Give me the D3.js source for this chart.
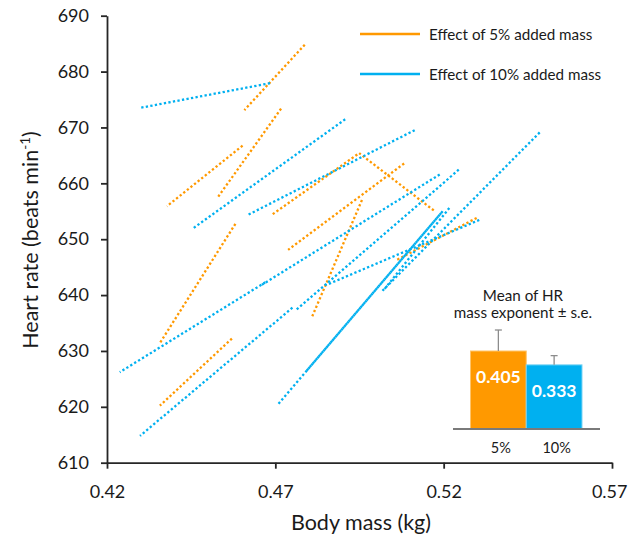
<!DOCTYPE html>
<html>
<head>
<meta charset="utf-8">
<script src="https://cdn.jsdelivr.net/npm/d3@7"></script>
<style>
  html, body { margin: 0; padding: 0; background: #fff; }
  svg { display: block; font-family: Lato, "Open Sans", sans-serif; }
</style>
</head>
<body>
<svg id="chart" width="628" height="538"></svg>
<script>
// ---- Data ----
// Each segment: [mass0, hr0, mass1, hr1]
const segments5 = [
  [0.4608, 673.1, 0.4792, 685.1],
  [0.4528, 657.4, 0.4721, 673.7],
  [0.4378, 655.9, 0.4608, 667.0],
  [0.4688, 654.3, 0.4949, 665.4],
  [0.4949, 665.4, 0.5176, 654.9],
  [0.4738, 648.1, 0.5088, 663.8],
  [0.4809, 636.1, 0.4960, 657.4],
  [0.4357, 631.4, 0.4585, 653.1],
  [0.4357, 620.2, 0.4576, 632.5],
  [0.5061, 646.3, 0.5304, 654.0]
];
const segments10 = [
  [0.4298, 673.5, 0.4691, 678.0],
  [0.4457, 652.0, 0.4913, 671.7],
  [0.4617, 654.3, 0.5120, 669.7],
  [0.4238, 626.2, 0.4676, 642.5],
  [0.4659, 641.8, 0.5194, 661.8],
  [0.4298, 614.8, 0.4756, 638.0],
  [0.4759, 637.2, 0.5250, 662.7],
  [0.4851, 641.8, 0.5312, 653.6],
  [0.4709, 620.5, 0.5197, 655.0],
  [0.4792, 626.4, 0.5197, 655.0],
  [0.5022, 640.9, 0.5221, 655.9],
  [0.5017, 640.7, 0.5490, 669.4]
];
const xTicks = [0.42, 0.47, 0.52, 0.57];
const yTicks = [610, 620, 630, 640, 650, 660, 670, 680, 690];
const legendLabels = ["Effect of 5% added mass", "Effect of 10% added mass"];
const insetCategories = ["5%", "10%"];
const insetMeans = [0.405, 0.333];
const insetSE = [0.109, 0.048];
const insetTitle = ["Mean of HR", "mass exponent \u00b1 s.e."];

const ORANGE = "#FF9900";
const BLUE = "#00B0F0";
const TEXT = "#1a1a1a";
const DASH = 2.3;

const svg = d3.select("#chart");

const x = d3.scaleLinear().domain([0.42, 0.57]).range([107, 612]);
const y = d3.scaleLinear().domain([610, 690]).range([462.7, 15.7]);

// ---- Axes ----
const yAxis = svg.append("g")
  .attr("transform", `translate(${x(0.42)},0)`)
  .call(d3.axisLeft(y).tickValues(yTicks).tickSize(6).tickPadding(12).tickSizeOuter(0).tickFormat(d3.format("d")));
const xAxis = svg.append("g")
  .attr("transform", `translate(0,${y(610)})`)
  .call(d3.axisBottom(x).tickValues(xTicks).tickSize(6).tickPadding(17).tickSizeOuter(0).tickFormat(d3.format(".2f")));

[xAxis, yAxis].forEach(g => {
  g.select(".domain").attr("stroke", "#262626").attr("stroke-width", 1.8);
  g.selectAll(".tick line").attr("stroke", "#262626").attr("stroke-width", 1.8);
  g.selectAll(".tick text").attr("fill", TEXT).attr("font-size", 18).attr("font-family", "Lato");
});
// keep the last x tick label inside the picture
xAxis.selectAll(".tick text").filter(d => d === 0.57)
  .attr("text-anchor", "end").attr("x", 15);

// ---- Segments ----
const lineGroup = svg.append("g");
function drawSegs(data, color) {
  lineGroup.selectAll(null).data(data).enter().append("line")
    .attr("x1", d => x(d[0])).attr("y1", d => y(d[1]))
    .attr("x2", d => x(d[2])).attr("y2", d => y(d[3]))
    .attr("stroke", color).attr("stroke-width", 2.3)
    .attr("stroke-dasharray", `${DASH} ${DASH}`)
    .attr("stroke-dashoffset", d => {
      // phase measured from the end point so coincident segments interleave
      const len = Math.hypot(x(d[2]) - x(d[0]), y(d[3]) - y(d[1]));
      return -(len % (2 * DASH));
    });
}
drawSegs(segments5, ORANGE);
drawSegs(segments10, BLUE);
// the two coincident 10% segments that appear as one dense line
lineGroup.selectAll("line").filter((d, i) => i === segments5.length + 9)
  .attr("stroke-dashoffset", function(d) {
    const len = Math.hypot(x(d[2]) - x(d[0]), y(d[3]) - y(d[1]));
    return -(len % (2 * DASH)) + DASH;
  });

// ---- Axis titles ----
svg.append("text")
  .attr("x", 361).attr("y", 522)
  .attr("text-anchor", "middle").attr("dominant-baseline", "central")
  .attr("font-size", 21.5).attr("fill", TEXT)
  .text("Body mass (kg)");

const yt = svg.append("text")
  .attr("transform", "translate(30,240) rotate(-90)")
  .attr("text-anchor", "middle").attr("dy", "0.35em")
  .attr("font-size", 21.5).attr("fill", TEXT);
yt.append("tspan").text("Heart rate (beats min");
yt.append("tspan").attr("font-size", 13.5).attr("dy", -8).text("-1");
yt.append("tspan").attr("dy", 8).text(")");

// ---- Legend ----
const legend = svg.append("g");
const legendColors = [ORANGE, BLUE];
const legendY = d3.scalePoint().domain(legendLabels).range([34, 74]);
legendLabels.forEach((lab, i) => {
  legend.append("line")
    .attr("x1", 360).attr("x2", 420)
    .attr("y1", legendY(lab)).attr("y2", legendY(lab))
    .attr("stroke", legendColors[i]).attr("stroke-width", 2.6);
  legend.append("text")
    .attr("x", 429).attr("y", legendY(lab))
    .attr("dominant-baseline", "central")
    .attr("font-size", 15.2).attr("fill", TEXT)
    .text(lab);
});

// ---- Inset bar chart ----
const bx = d3.scaleBand().domain(insetCategories).range([470.5, 582]).paddingInner(0).paddingOuter(0);
const by = d3.scaleLinear().domain([0, 0.6]).range([429, 429 - 0.6 * 192.6]);
const inset = svg.append("g");
const barColors = [ORANGE, BLUE];
const barStroke = ["#FFC46A", "#7AD3F5"];

inset.selectAll("rect").data(insetMeans).enter().append("rect")
  .attr("x", (d, i) => bx(insetCategories[i]))
  .attr("width", bx.bandwidth())
  .attr("y", d => by(d))
  .attr("height", d => by(0) - by(d))
  .attr("fill", (d, i) => barColors[i])
  .attr("stroke", (d, i) => barStroke[i]).attr("stroke-width", 1);

// error bars and labels
insetMeans.forEach((m, i) => {
  const cx = bx(insetCategories[i]) + bx.bandwidth() / 2;
  inset.append("line").attr("x1", cx).attr("x2", cx)
    .attr("y1", by(m)).attr("y2", by(m + insetSE[i]))
    .attr("stroke", "#8c8c8c").attr("stroke-width", 1.3);
  inset.append("line").attr("x1", cx - 3.5).attr("x2", cx + 3.5)
    .attr("y1", by(m + insetSE[i])).attr("y2", by(m + insetSE[i]))
    .attr("stroke", "#8c8c8c").attr("stroke-width", 1.3);
  inset.append("text")
    .attr("x", cx).attr("y", by(m) + 26 + (i === 1 ? -0.5 : 0))
    .attr("text-anchor", "middle").attr("dominant-baseline", "central")
    .attr("font-size", 17.5).attr("font-weight", "bold").attr("fill", "#fff")
    .text(d3.format(".3f")(m));
  inset.append("text")
    .attr("x", cx + 2.5).attr("y", 447)
    .attr("text-anchor", "middle").attr("dominant-baseline", "central")
    .attr("font-size", 14.5).attr("fill", TEXT)
    .text(insetCategories[i]);
});

// baseline
inset.append("line").attr("x1", 453).attr("x2", 600)
  .attr("y1", by(0)).attr("y2", by(0))
  .attr("stroke", "#7a7a7a").attr("stroke-width", 2);

// inset title
insetTitle.forEach((t, i) => {
  inset.append("text")
    .attr("x", 523).attr("y", 295 + i * 17)
    .attr("text-anchor", "middle").attr("dominant-baseline", "central")
    .attr("font-size", 15.2).attr("fill", TEXT)
    .text(t);
});
</script>
</body>
</html>
